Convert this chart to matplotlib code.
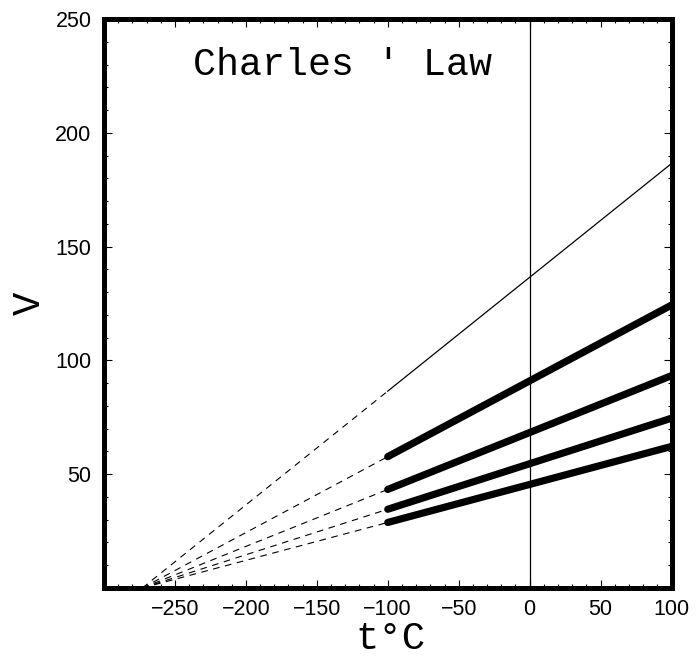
import matplotlib
matplotlib.use("Agg")
import matplotlib.pyplot as plt
from matplotlib.ticker import MultipleLocator

# values: temperatures (deg C) and volumes on each line
t_zero = -273
t_start = -100
t_end = 100

# volume at t = -100 and at t = 100 for each line (top to bottom)
v_start = [86.5, 57.7, 43.3, 34.6, 28.8]
v_end = [186.5, 124.3, 93.3, 74.6, 62.2]
thick = [False, True, True, True, True]

xticks = [-250, -200, -150, -100, -50, 0, 50, 100]
yticks = [50, 100, 150, 200, 250]

fig = plt.figure(figsize=(6.97, 6.58), dpi=100)
ax = fig.add_axes([104 / 697, 1 - 588 / 658, 567.5 / 697, 569 / 658])

#extrapolated part to absolute zero
for vs in v_start:
    ax.plot([t_zero, t_start], [0, vs], color="black", lw=0.8, ls=(0, (6, 5)))

#measured part
for vs, ve, th in zip(v_start, v_end, thick):
    if th:
        ax.plot([t_start, t_end], [vs, ve], color="black", lw=5.2, solid_capstyle="round")
    else:
        ax.plot([t_start, t_end], [vs, ve], color="black", lw=0.9)

ax.axvline(0, color="black", lw=0.9)

ax.set_xlim(-300, 100)
ax.set_ylim(0, 250)
ax.set_xticks(xticks)
ax.set_yticks(yticks)
ax.xaxis.set_minor_locator(MultipleLocator(10))
ax.yaxis.set_minor_locator(MultipleLocator(10))
ax.tick_params(which="both", direction="in", top=True, right=True, width=0.8)
ax.tick_params(which="major", length=6)
ax.tick_params(which="minor", length=3)
ax.tick_params(axis="x", pad=8)
ax.tick_params(axis="y", pad=9)
for lab in ax.get_xticklabels() + ax.get_yticklabels():
    lab.set_fontfamily("Liberation Sans")
    lab.set_fontsize(15.5)
for sp in ax.spines.values():
    sp.set_linewidth(3.6)

ax.text(0.421, 0.92, "Charles ' Law", transform=ax.transAxes, ha="center", va="center",
        fontfamily="Liberation Mono", fontsize=27.5)
fig.text(390 / 697, 1 - 639 / 658, "t°C", ha="center", va="center",
         fontfamily="Liberation Mono", fontsize=28)
fig.text(30 / 697, 1 - 303 / 658, "V", ha="center", va="center", rotation=90,
         fontfamily="Liberation Mono", fontsize=28)

fig.savefig("out.png", dpi=100)
